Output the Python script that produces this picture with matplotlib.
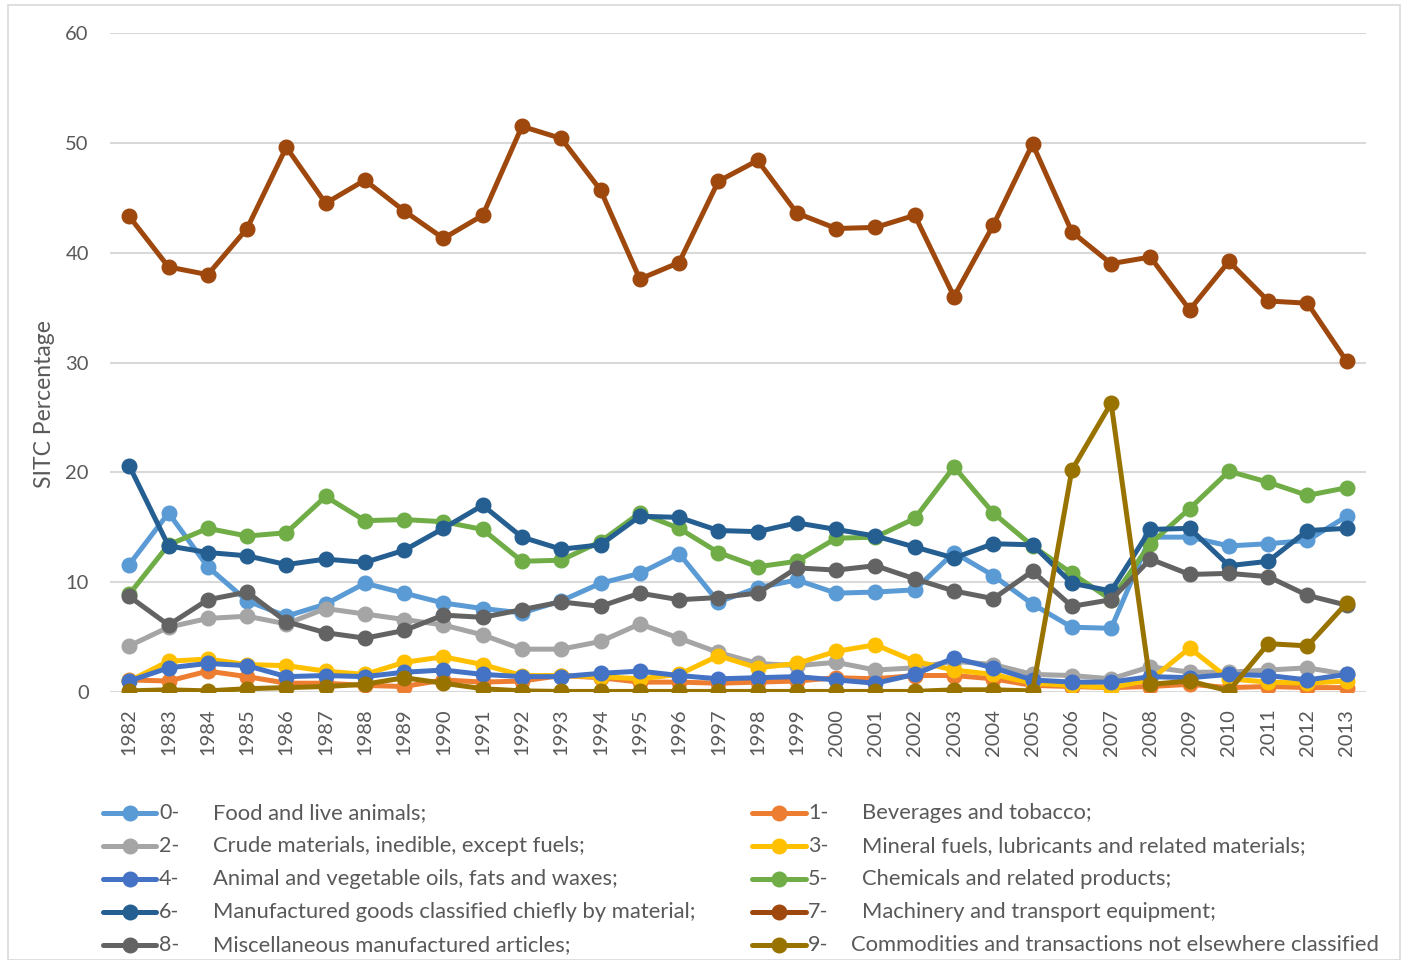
import numpy as np
import matplotlib
matplotlib.use('Agg')
import matplotlib.pyplot as plt
from matplotlib.lines import Line2D
from matplotlib.patches import Rectangle

years = list(range(1982, 2014))

food = [11.6, 16.3, 11.4, 8.3, 6.9, 8.0, 9.9, 9.0, 8.1, 7.6, 7.2, 8.3, 9.9, 10.8, 12.6, 8.2,
        9.5, 10.2, 9.0, 9.1, 9.3, 12.7, 10.6, 8.0, 5.9, 5.8, 14.1, 14.1, 13.3, 13.5, 13.8, 16.0]
beverages = [1.1, 1.0, 1.9, 1.4, 0.8, 0.8, 0.6, 0.5, 1.1, 0.9, 1.0, 1.5, 1.3, 0.9, 0.9, 0.8,
             0.9, 1.0, 1.3, 1.2, 1.5, 1.5, 1.2, 0.6, 0.5, 0.4, 0.5, 0.7, 0.4, 0.5, 0.4, 0.4]
crude = [4.2, 5.9, 6.7, 6.9, 6.2, 7.6, 7.1, 6.6, 6.1, 5.2, 3.9, 3.9, 4.6, 6.2, 4.9, 3.6,
         2.6, 2.4, 2.7, 2.0, 2.2, 2.8, 2.5, 1.6, 1.5, 1.2, 2.3, 1.8, 1.8, 2.0, 2.2, 1.6]
fuels = [1.0, 2.8, 3.0, 2.5, 2.4, 1.9, 1.6, 2.7, 3.2, 2.5, 1.5, 1.5, 1.4, 1.2, 1.6, 3.3,
         2.2, 2.6, 3.7, 4.3, 2.8, 2.0, 1.6, 0.8, 0.6, 0.4, 1.1, 4.0, 1.2, 0.9, 0.8, 1.0]
oils = [1.0, 2.2, 2.6, 2.4, 1.4, 1.5, 1.4, 1.8, 2.0, 1.6, 1.4, 1.4, 1.7, 1.9, 1.5, 1.2,
        1.3, 1.4, 1.1, 0.8, 1.6, 3.1, 2.2, 1.1, 0.9, 0.9, 1.4, 1.3, 1.6, 1.5, 1.1, 1.6]
chemicals = [8.9, 13.4, 14.9, 14.2, 14.5, 17.8, 15.6, 15.7, 15.5, 14.8, 11.9, 12.0, 13.7, 16.3, 14.9, 12.7,
             11.4, 11.9, 14.0, 14.1, 15.8, 20.5, 16.3, 13.3, 10.8, 8.4, 13.5, 16.7, 20.1, 19.1, 17.9, 18.6]
manufactured = [20.6, 13.3, 12.7, 12.4, 11.6, 12.1, 11.8, 12.9, 14.9, 17.0, 14.1, 13.0, 13.4, 16.0, 15.9, 14.7,
                14.6, 15.4, 14.8, 14.2, 13.2, 12.2, 13.5, 13.4, 9.9, 9.2, 14.8, 14.9, 11.5, 11.9, 14.7, 14.9]
machinery = [43.3, 38.7, 38.0, 42.2, 49.6, 44.5, 46.6, 43.8, 41.3, 43.4, 51.5, 50.4, 45.7, 37.6, 39.1, 46.5,
             48.4, 43.6, 42.2, 42.3, 43.4, 36.0, 42.5, 49.9, 41.9, 39.0, 39.6, 34.8, 39.2, 35.6, 35.4, 30.1]
misc = [8.7, 6.1, 8.4, 9.1, 6.4, 5.4, 4.9, 5.6, 7.0, 6.8, 7.5, 8.2, 7.8, 9.0, 8.4, 8.6,
        9.0, 11.3, 11.1, 11.5, 10.3, 9.2, 8.5, 11.0, 7.8, 8.4, 12.1, 10.7, 10.8, 10.5, 8.8, 7.9]
other = [0.1, 0.2, 0.1, 0.3, 0.4, 0.5, 0.7, 1.3, 0.8, 0.3, 0.1, 0.05, 0.05, 0.05, 0.05, 0.05,
         0.05, 0.05, 0.05, 0.05, 0.05, 0.2, 0.2, 0.1, 20.2, 26.3, 0.7, 1.0, 0.1, 4.4, 4.2, 8.1]

codes = ['0-', '1-', '2-', '3-', '4-', '5-', '6-', '7-', '8-', '9-']
names = ['Food and live animals;', 'Beverages and tobacco;',
         'Crude materials, inedible, except fuels;', 'Mineral fuels, lubricants and related materials;',
         'Animal and vegetable oils, fats and waxes;', 'Chemicals and related products;',
         'Manufactured goods classified chiefly by material;', 'Machinery and transport equipment;',
         'Miscellaneous manufactured articles;', 'Commodities and transactions not elsewhere classified']
series = [food, beverages, crude, fuels, oils, chemicals, manufactured, machinery, misc, other]
colors = ['#5B9BD5', '#ED7D31', '#A5A5A5', '#FFC000', '#4472C4',
          '#70AD47', '#255E91', '#9E480E', '#636363', '#997300']

plt.rcParams['font.family'] = ['Lato', 'DejaVu Sans']
text_col = '#595959'

W, H = 1408, 960
fig = plt.figure(figsize=(W / 100, H / 100), dpi=100)

# plot area in pixels
left, right, top, bottom = 109.6, 1366.4, 33, 692
ax = fig.add_axes([left / W, 1 - bottom / H, (right - left) / W, (bottom - top) / H])

for vals, col in zip(series, colors):
    ax.plot(years, vals, color=col, lw=3.6, marker='o', markersize=10.5,
            solid_capstyle='round', solid_joinstyle='round')

ax.set_xlim(1981.5, 2013.5)
ax.set_ylim(0, 60)
ax.set_yticks(np.arange(0, 61, 10))
ax.set_xticks(years)
ax.set_xticklabels([str(y) for y in years], rotation=90)
ax.grid(axis='y', color='#D9D9D9', lw=1.5)
ax.set_axisbelow(True)
for s in ax.spines.values():
    s.set_visible(False)
ax.tick_params(axis='y', length=0, pad=15, labelsize=14.5, labelcolor=text_col)
ax.tick_params(axis='x', length=0, pad=12, labelsize=14.5, labelcolor=text_col)

fig.text(45 / W, 1 - 404 / H, 'SITC Percentage', rotation=90, ha='center', va='center',
         fontsize=16.5, color=text_col)

# legend, two columns
row_y = [813, 846, 879, 912, 945]
for i in range(10):
    col = i % 2
    row = i // 2
    y = 1 - row_y[row] / H
    if col == 0:
        x0, x1, xm, xc, xt = 103, 156, 130, 159, 213
    else:
        x0, x1, xm, xc, xt = 752, 806, 779, 808, 862
    if i == 9:
        xt = 851
    fig.add_artist(Line2D([x0 / W, x1 / W], [y, y], color=colors[i], lw=3.6,
                          solid_capstyle='round'))
    fig.add_artist(Line2D([xm / W], [y], color=colors[i], marker='o', markersize=10.5))
    fig.text(xc / W, y, codes[i], ha='left', va='center', fontsize=15.5, color=text_col)
    fig.text(xt / W, y, names[i], ha='left', va='center', fontsize=15.8, color=text_col)

fig.add_artist(Rectangle((8 / W, 0), (1400 - 8) / W, 1 - 5 / H, transform=fig.transFigure,
                         fill=False, edgecolor='#D9D9D9', lw=1.2))

fig.savefig('out.png', dpi=100)
